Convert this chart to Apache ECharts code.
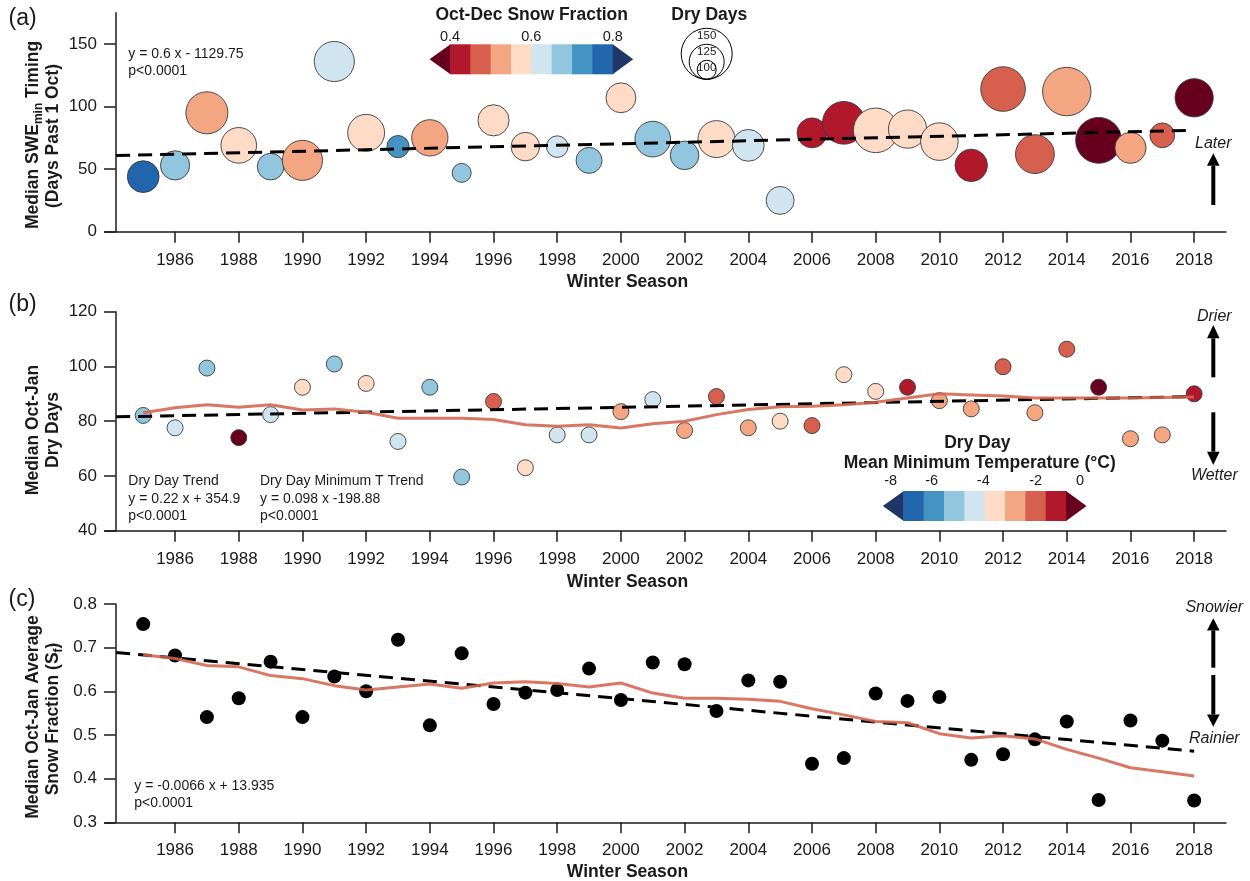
<!DOCTYPE html>
<html><head><meta charset="utf-8">
<script src="https://cdn.jsdelivr.net/npm/echarts@6/dist/echarts.min.js"></script>
<style>html,body{margin:0;padding:0;background:#fff}#c{width:1250px;height:881px}</style>
</head><body><div id="c"></div>
<script>
// ---------- data ----------
const years = [1985,1986,1987,1988,1989,1990,1991,1992,1993,1994,1995,1996,1997,1998,1999,2000,2001,2002,2003,2004,2005,2006,2007,2008,2009,2010,2011,2012,2013,2014,2015,2016,2017,2018];
const xTicks = [1986,1988,1990,1992,1994,1996,1998,2000,2002,2004,2006,2008,2010,2012,2014,2016,2018];
// (a) SWEmin timing, Oct-Dec snow fraction (colour), dry days (size)
const sweTiming = [44,53,95,69,52,57,136,79,68,75,47,89,68,68,57,107,74,61,74,69,25,79,87,81,82,72,53,114,62,112,73,67,77,107];
const snowFracOD = [0.77,0.67,0.52,0.57,0.67,0.52,0.62,0.57,0.72,0.52,0.67,0.57,0.58,0.63,0.68,0.56,0.66,0.68,0.57,0.62,0.63,0.43,0.42,0.58,0.57,0.56,0.43,0.47,0.48,0.53,0.38,0.52,0.47,0.39];
const dryDaysA = [120,116,136,126,112,133,133,128,105,127,100,119,115,104,111,117,126,115,128,120,114,117,137,140,130,129,121,140,131,146,142,119,109,130];
const trendA = [[1984.15,60.8],[2017.75,80.9]];
// (b) Oct-Jan dry days, dry-day mean min temperature (colour)
const dryDaysB = [82.1,77.6,99.4,74.0,82.4,92.4,100.9,93.8,72.6,92.4,59.6,87.2,63.0,75.0,75.0,83.5,87.9,76.6,89.0,77.6,80.0,78.4,97.0,90.9,92.4,87.5,84.5,99.9,83.1,106.3,92.4,73.6,75.0,90.0];
const minTempB = [-5.5,-4.5,-5.5,0.3,-4.5,-3.5,-5.5,-3.5,-4.5,-5.5,-5.5,-1.5,-3.5,-4.5,-4.5,-2.5,-4.5,-2.5,-1.5,-2.5,-3.5,-1.5,-3.5,-3.5,-0.5,-2.5,-2.5,-1.5,-2.5,-1.5,0.2,-2.5,-2.5,-0.5];
const minTLineB = [83.1,84.9,86.0,85.1,86.0,84.1,84.5,83.3,81.1,81.1,81.1,80.6,78.7,78.2,78.7,77.5,79.1,80.0,82.4,84.3,85.3,85.5,86.0,86.9,88.5,90.0,89.6,89.2,88.5,88.5,88.5,88.5,88.7,88.8];
const trendB = [[1984.15,81.6],[2018,89.0]];
// (c) Oct-Jan average snow fraction
const snowFracC = [0.754,0.682,0.541,0.584,0.668,0.541,0.634,0.600,0.718,0.522,0.687,0.571,0.597,0.603,0.652,0.580,0.666,0.662,0.555,0.625,0.622,0.434,0.447,0.595,0.578,0.587,0.443,0.456,0.490,0.531,0.351,0.533,0.487,0.350];
const sfLineC = [0.684,0.675,0.659,0.656,0.636,0.629,0.613,0.603,0.610,0.617,0.607,0.619,0.622,0.618,0.610,0.619,0.596,0.584,0.584,0.582,0.577,0.560,0.546,0.531,0.528,0.503,0.493,0.498,0.491,0.467,0.447,0.425,0.416,0.406];
const trendC = [[1984.15,0.689],[2018,0.463]];
// axes / legends
const yTicksA = [0,50,100,150];
const yTicksB = [40,60,80,100,120];
const yTicksC = [0.3,0.4,0.5,0.6,0.7,0.8];
const sfColors = ['#67001f','#b2182b','#d6604d','#f4a582','#fddbc7','#d1e5f0','#92c5de','#4393c3','#2166ac','#1f3766'];
const sfEdges = [0.4,0.45,0.5,0.55,0.6,0.65,0.7,0.75,0.8];
const sfLabels = [0.4,0.6,0.8];
const tColors = ['#1f3766','#2166ac','#4393c3','#92c5de','#d1e5f0','#fddbc7','#f4a582','#d6604d','#b2182b','#67001f'];
const tEdges = [-8,-7,-6,-5,-4,-3,-2,-1,0];
const tLabels = ['-8','-6','-4','-2','0'];
const sizeLegend = [150,125,100];

// ---------- helpers ----------
const FF = "'Liberation Sans', Arial, Helvetica, sans-serif";
const INK = '#1a1a1a';
const sizeOf = d => 0.64 * d - 45;
function pieces(edges, colors) {
  return colors.map((c, i) => {
    if (i === 0) return { lt: edges[0], color: c };
    if (i === colors.length - 1) return { gte: edges[edges.length - 1], color: c };
    return { gte: edges[i - 1], lt: edges[i], color: c };
  });
}
const grids = [
  { left: 105, top: 12.7, width: 1121, height: 219 },
  { left: 105, top: 311.7, width: 1121, height: 219 },
  { left: 105, top: 604, width: 1121, height: 218.3 }
];
function xAx(i) {
  return {
    type: 'value', gridIndex: i, min: 1983.8, max: 2019,
    splitLine: { show: false },
    axisLine: { show: true, onZero: false, lineStyle: { color: INK, width: 1.5 } },
    axisTick: { show: true, customValues: xTicks, length: 11, lineStyle: { color: INK, width: 1.5 } },
    axisLabel: { show: true, customValues: xTicks, margin: 20, fontSize: 17, color: INK, fontFamily: FF, formatter: v => String(v) }
  };
}
function yAx(i, min, max, ticks, fmt) {
  return {
    type: 'value', gridIndex: i, min: min, max: max, offset: -10.5,
    splitLine: { show: false },
    axisLine: { show: true, onZero: false, lineStyle: { color: INK, width: 1.5 } },
    axisTick: { show: true, customValues: ticks, length: 11.5, lineStyle: { color: INK, width: 1.5 } },
    axisLabel: { show: true, customValues: ticks, margin: 18.5, fontSize: 17, color: INK, fontFamily: FF, formatter: fmt }
  };
}
const dashed = { color: '#000', width: 3, type: [14, 8] };
const redLine = { color: 'rgba(212,100,80,0.88)', width: 3 };

// ---------- graphics (text, legends, arrows) ----------
const G = [];
function txt(x, y, text, o) {
  o = o || {};
  G.push({
    type: 'text', x: x, y: y, rotation: o.rot || 0, z: 100,
    style: {
      text: text, fill: o.fill || INK, fontSize: o.size || 14, fontFamily: FF,
      fontWeight: o.bold ? 'bold' : 'normal', fontStyle: o.italic ? 'italic' : 'normal',
      align: o.align || 'left', verticalAlign: 'middle', rich: o.rich
    }
  });
}
function arrow(x, tipY, baseY, endY) {
  G.push({ type: 'polygon', z: 100, shape: { points: [[x - 6.3, baseY], [x + 6.3, baseY], [x, tipY]] }, style: { fill: '#000' } });
  const y0 = Math.min(baseY, endY), y1 = Math.max(baseY, endY);
  G.push({ type: 'rect', z: 100, shape: { x: x - 2, y: y0, width: 4, height: y1 - y0 }, style: { fill: '#000' } });
}
function colorbar(colors, x0, w, y0, h) {
  const n = colors.length - 2;
  const x1 = x0 + n * w, ym = y0 + h / 2;
  G.push({ type: 'polygon', z: 100, shape: { points: [[x0 + 0.5, y0], [x0 + 0.5, y0 + h], [x0 - 20.5, ym]] }, style: { fill: colors[0] } });
  for (let i = 0; i < n; i++) {
    G.push({ type: 'rect', z: 100, shape: { x: x0 + i * w, y: y0, width: w + 0.6, height: h }, style: { fill: colors[i + 1] } });
  }
  G.push({ type: 'polygon', z: 100, shape: { points: [[x1, y0], [x1, y0 + h], [x1 + 20.5, ym]] }, style: { fill: colors[colors.length - 1] } });
}

// panel letters
txt(8.5, 18.5, '(a)', { size: 23 });
txt(8.5, 305, '(b)', { size: 23 });
txt(8.5, 600, '(c)', { size: 23 });

// y axis titles (rotated)
const bRich = {
  b: { fontSize: 17.5, fontWeight: 'bold', fontFamily: FF, fill: INK, lineHeight: 24, verticalAlign: 'middle' },
  s: { fontSize: 12, fontWeight: 'bold', fontFamily: FF, fill: INK, lineHeight: 12, verticalAlign: 'bottom' }
};
const R = Math.PI / 2;
txt(33, 135, '{b|Median SWE}{s|min}{b| Timing}', { rot: R, align: 'center', rich: bRich });
txt(53, 136, '(Days Past 1 Oct)', { rot: R, align: 'center', bold: true, size: 17.5 });
txt(33, 430, 'Median Oct-Jan', { rot: R, align: 'center', bold: true, size: 17.5 });
txt(53, 430, 'Dry Days', { rot: R, align: 'center', bold: true, size: 17.5 });
txt(33, 717, 'Median Oct-Jan Average', { rot: R, align: 'center', bold: true, size: 17.5 });
txt(53, 719, '{b|Snow Fraction (S}{s|f}{b|)}', { rot: R, align: 'center', rich: bRich });

// x axis titles
[281.7, 581.7, 871.7].forEach(y => txt(627.5, y, 'Winter Season', { align: 'center', bold: true, size: 17.5 }));

// equations
txt(128.3, 54.5, 'y = 0.6 x - 1129.75');
txt(128.3, 71.5, 'p<0.0001');
txt(128.3, 480.7, 'Dry Day Trend');
txt(128.3, 498.7, 'y = 0.22 x + 354.9');
txt(128.3, 516.5, 'p<0.0001');
txt(260, 480.7, 'Dry Day Minimum T Trend');
txt(260, 498.7, 'y = 0.098 x -198.88');
txt(260, 516.5, 'p<0.0001');
txt(134.3, 786, 'y = -0.0066 x + 13.935');
txt(134.3, 803.5, 'p<0.0001');

// direction arrows
txt(1213.3, 143.3, 'Later', { align: 'center', italic: true, size: 16 });
arrow(1213.3, 153.3, 165.7, 205);
txt(1214.3, 316.7, 'Drier', { align: 'center', italic: true, size: 16 });
arrow(1213.3, 325, 338.3, 377.3);
arrow(1213.3, 465, 451.7, 412.3);
txt(1214.3, 475.5, 'Wetter', { align: 'center', italic: true, size: 16 });
txt(1214.3, 607.7, 'Snowier', { align: 'center', italic: true, size: 16 });
arrow(1213.3, 618.3, 630.5, 667.7);
arrow(1213.3, 726.7, 714.5, 675);
txt(1214.3, 739, 'Rainier', { align: 'center', italic: true, size: 16 });

// snow fraction colorbar (a)
txt(531.7, 15, 'Oct-Dec Snow Fraction', { align: 'center', bold: true, size: 17.5 });
colorbar(sfColors, 450, 20.34, 44.3, 30);
sfLabels.forEach(v => txt(450 + (v - sfEdges[0]) / 0.05 * 20.34, 37.3, v.toFixed(1), { align: 'center', size: 14.5 }));

// dry days size legend (a)
txt(709.3, 15, 'Dry Days', { align: 'center', bold: true, size: 17.5 });
sizeLegend.forEach(d => {
  const r = sizeOf(d) / 2, bottom = 79.3;
  G.push({ type: 'circle', z: 100, shape: { cx: 706.7, cy: bottom - r, r: r }, style: { fill: 'none', stroke: '#000', lineWidth: 1 } });
  txt(706.7, bottom - 2 * r + 7.3, String(d), { align: 'center', size: 11.5 });
});

// min temperature colorbar (b)
txt(977.3, 443.3, 'Dry Day', { align: 'center', bold: true, size: 17.5 });
txt(979.7, 463.3, 'Mean Minimum Temperature (°C)', { align: 'center', bold: true, size: 17.5 });
colorbar(tColors, 903.3, 20.34, 491, 30);
const tLabelX = [890.7, 931.7, 983.3, 1035.7, 1080];
tLabels.forEach((t, i) => txt(tLabelX[i], 480.7, t, { align: 'center', size: 14.5 }));

// ---------- option ----------
const option = {
  animation: false,
  backgroundColor: '#fff',
  grid: grids,
  xAxis: [xAx(0), xAx(1), xAx(2)],
  yAxis: [
    yAx(0, 0, 175, yTicksA, v => String(v)),
    yAx(1, 40, 120, yTicksB, v => String(v)),
    yAx(2, 0.3, 0.8, yTicksC, v => v.toFixed(1))
  ],
  visualMap: [
    { type: 'piecewise', show: false, seriesIndex: 0, dimension: 2, pieces: pieces(sfEdges, sfColors) },
    { type: 'piecewise', show: false, seriesIndex: 2, dimension: 2, pieces: pieces(tEdges, tColors) }
  ],
  series: [
    { type: 'scatter', xAxisIndex: 0, yAxisIndex: 0, z: 2,
      data: years.map((y, i) => [y, sweTiming[i], snowFracOD[i], dryDaysA[i]]),
      symbolSize: v => sizeOf(v[3]),
      itemStyle: { borderColor: '#3a3a3a', borderWidth: 0.9, opacity: 1 } },
    { type: 'line', xAxisIndex: 0, yAxisIndex: 0, z: 3, data: trendA, symbol: 'none', lineStyle: dashed },
    { type: 'scatter', xAxisIndex: 1, yAxisIndex: 1, z: 2,
      data: years.map((y, i) => [y, dryDaysB[i], minTempB[i]]),
      symbolSize: 16,
      itemStyle: { borderColor: '#3a3a3a', borderWidth: 0.9, opacity: 1 } },
    { type: 'line', xAxisIndex: 1, yAxisIndex: 1, z: 3, data: trendB, symbol: 'none', lineStyle: dashed },
    { type: 'line', xAxisIndex: 1, yAxisIndex: 1, z: 4, data: years.map((y, i) => [y, minTLineB[i]]), symbol: 'none', lineStyle: redLine },
    { type: 'scatter', xAxisIndex: 2, yAxisIndex: 2, z: 2,
      data: years.map((y, i) => [y, snowFracC[i]]),
      symbolSize: 14, itemStyle: { color: '#000', opacity: 1 } },
    { type: 'line', xAxisIndex: 2, yAxisIndex: 2, z: 3, data: trendC, symbol: 'none', lineStyle: dashed },
    { type: 'line', xAxisIndex: 2, yAxisIndex: 2, z: 4, data: years.map((y, i) => [y, sfLineC[i]]), symbol: 'none', lineStyle: redLine }
  ],
  graphic: G
};
const chart = echarts.init(document.getElementById('c'), null, { renderer: 'canvas' });
chart.setOption(option);
</script>
</body></html>
